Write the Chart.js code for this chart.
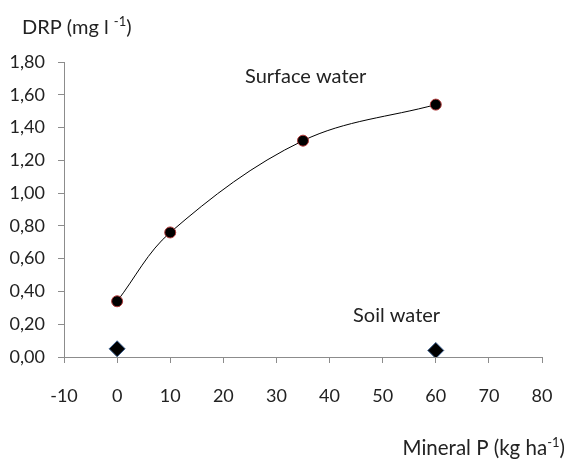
<!DOCTYPE html>
<html>
<head>
<meta charset="utf-8">
<script src="https://cdn.jsdelivr.net/npm/chart.js@4"></script>
<style>
html,body{margin:0;padding:0;background:#fff;}
#wrap{width:567px;height:462px;position:relative;}
</style>
</head>
<body>
<div id="wrap"><canvas id="c" width="567" height="462"></canvas></div>
<script>
// Data
const surfaceX = [0, 10, 35, 60];
const surfaceY = [0.34, 0.76, 1.32, 1.54];
const soilX = [0, 60];
const soilY = [0.05, 0.04];
const xTicks = [-10, 0, 10, 20, 30, 40, 50, 60, 70, 80];
const yTicks = [0.00, 0.20, 0.40, 0.60, 0.80, 1.00, 1.20, 1.40, 1.60, 1.80];
const labelSurface = "Surface water";
const labelSoil = "Soil water";

const FONT = "Lato, 'Open Sans', sans-serif";
const TXT = '#222222';
const AXIS = '#8c8c8c';

const textPlugin = {
  id: 'texts',
  afterDraw(chart) {
    const ctx = chart.ctx;
    ctx.save();
    ctx.fillStyle = TXT;
    ctx.textBaseline = 'alphabetic';
    ctx.textAlign = 'left';
    // y title with superscript
    ctx.font = '20px ' + FONT;
    let x = 22, y = 34;
    ctx.fillText('DRP (mg l ', x, y);
    x += ctx.measureText('DRP (mg l ').width;
    ctx.font = '13px ' + FONT;
    ctx.fillText('-1', x, y - 8);
    x += ctx.measureText('-1').width;
    ctx.font = '20px ' + FONT;
    ctx.fillText(')', x, y);
    // x title with superscript
    const main = 'Mineral P (kg ha', sup = '-1', end = ')';
    ctx.font = '20.5px ' + FONT; const w1 = ctx.measureText(main).width;
    ctx.font = '13px ' + FONT; const w2 = ctx.measureText(sup).width;
    ctx.font = '20.5px ' + FONT; const w3 = ctx.measureText(end).width;
    let xs = 565 - (w1 + w2 + w3), ys = 455;
    ctx.fillText(main, xs, ys);
    ctx.font = '13px ' + FONT; ctx.fillText(sup, xs + w1, ys - 8);
    ctx.font = '20.5px ' + FONT; ctx.fillText(end, xs + w1 + w2, ys);
    // series labels
    ctx.font = '20px ' + FONT;
    ctx.fillText(labelSurface, 245, 83);
    ctx.fillText(labelSoil, 353, 322);
    ctx.restore();
  }
};

new Chart(document.getElementById('c'), {
  type: 'scatter',
  data: {
    datasets: [
      {
        label: labelSurface,
        data: surfaceX.map((v, i) => ({x: v, y: surfaceY[i]})),
        showLine: true,
        tension: 0.35,
        borderColor: '#000000',
        borderWidth: 1,
        pointRadius: 5.5,
        pointHoverRadius: 5.5,
        pointBackgroundColor: '#000000',
        pointBorderColor: '#b03a3a',
        pointBorderWidth: 1,
        order: 1
      },
      {
        label: labelSoil,
        data: soilX.map((v, i) => ({x: v, y: soilY[i]})),
        showLine: false,
        pointStyle: 'rectRot',
        pointRadius: 8,
        pointHoverRadius: 8,
        pointBackgroundColor: '#000000',
        pointBorderColor: '#3a5f8f',
        pointBorderWidth: 1,
        order: 0
      }
    ]
  },
  options: {
    responsive: false,
    animation: false,
    devicePixelRatio: 1,
    layout: { padding: { left: 0, right: 25, top: 62, bottom: 0 } },
    plugins: { legend: { display: false }, tooltip: { enabled: false } },
    scales: {
      x: {
        type: 'linear',
        min: xTicks[0],
        max: xTicks[xTicks.length - 1],
        afterBuildTicks: (s) => { s.ticks = xTicks.map(v => ({value: v})); },
        afterFit: (s) => { s.height = 105; s.paddingLeft = 0; s.paddingRight = 0; },
        border: { display: true, color: AXIS, width: 1 },
        grid: { display: true, drawOnChartArea: false, drawTicks: true, tickLength: 6, color: AXIS },
        ticks: {
          padding: 22,
          color: TXT,
          font: { family: FONT, size: 18 },
          callback: (v) => String(v)
        }
      },
      y: {
        type: 'linear',
        min: yTicks[0],
        max: yTicks[yTicks.length - 1],
        afterBuildTicks: (s) => { s.ticks = yTicks.map(v => ({value: v})); },
        afterFit: (s) => { s.width = 64; },
        border: { display: true, color: AXIS, width: 1 },
        grid: { display: true, drawOnChartArea: false, drawTicks: true, tickLength: 6, color: AXIS },
        ticks: {
          padding: 13,
          color: TXT,
          font: { family: FONT, size: 18 },
          callback: (v) => Number(v).toFixed(2).replace('.', ',')
        }
      }
    }
  },
  plugins: [textPlugin]
});
</script>
</body>
</html>
